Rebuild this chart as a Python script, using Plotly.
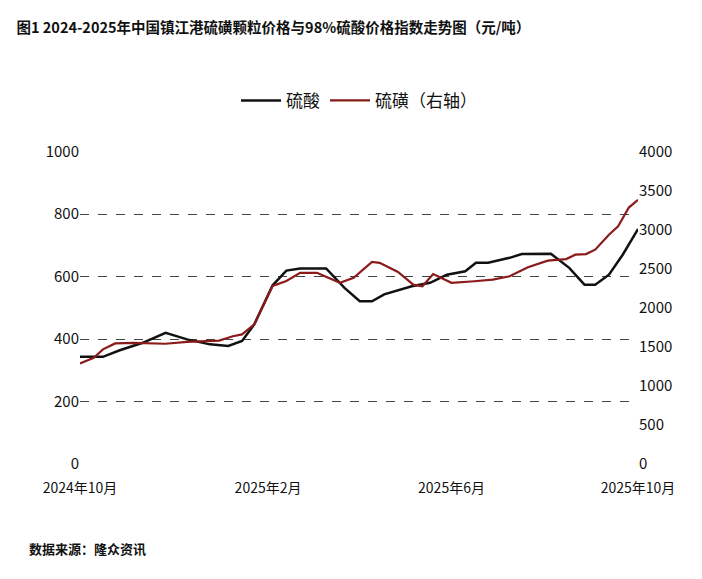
import plotly.graph_objects as go

acid_dates = ["2024-10-01", "2024-10-16", "2024-10-27", "2024-11-11", "2024-11-26", "2024-12-10",
              "2024-12-25", "2025-01-06", "2025-01-15", "2025-01-23", "2025-02-04", "2025-02-13",
              "2025-02-22", "2025-03-11", "2025-03-23", "2025-04-02", "2025-04-10", "2025-04-18",
              "2025-05-06", "2025-05-18", "2025-05-29", "2025-06-10", "2025-06-17", "2025-06-25",
              "2025-07-09", "2025-07-17", "2025-08-05", "2025-08-17", "2025-08-27", "2025-09-03",
              "2025-09-12", "2025-09-21", "2025-10-01"]
acid = [343, 343, 364, 388, 420, 399, 383, 378, 394, 447, 572, 619, 626, 626, 564, 521, 521, 543,
        569, 580, 606, 617, 644, 644, 660, 672, 673, 628, 574, 574, 606, 670, 752]

sulfur_dates = ["2024-10-01", "2024-10-10", "2024-10-16", "2024-10-24", "2024-11-05", "2024-11-26",
                "2024-12-10", "2024-12-31", "2025-01-09", "2025-01-15", "2025-01-23", "2025-02-04",
                "2025-02-13", "2025-02-22", "2025-03-05", "2025-03-20", "2025-03-29", "2025-04-10",
                "2025-04-15", "2025-04-27", "2025-05-07", "2025-05-13", "2025-05-20", "2025-06-01",
                "2025-06-16", "2025-06-28", "2025-07-09", "2025-07-21", "2025-08-03", "2025-08-15",
                "2025-08-21", "2025-08-28", "2025-09-03", "2025-09-12", "2025-09-18", "2025-09-25",
                "2025-10-01"]
sulfur = [1288, 1360, 1468, 1544, 1552, 1540, 1564, 1580, 1636, 1660, 1788, 2280, 2344, 2448, 2448,
          2320, 2384, 2588, 2576, 2460, 2296, 2276, 2432, 2320, 2340, 2360, 2404, 2520, 2604, 2624,
          2680, 2688, 2744, 2936, 3044, 3284, 3384]

tick_vals = ["2024-10-01", "2025-02-01", "2025-06-01", "2025-10-01"]
tick_text = ["2024年10月", "2025年2月", "2025年6月", "2025年10月"]

font = "Noto Sans CJK SC"
fig = go.Figure()
fig.add_trace(go.Scatter(x=acid_dates, y=acid, name="硫酸", mode="lines",
                         line=dict(color="#111111", width=2.5)))
fig.add_trace(go.Scatter(x=sulfur_dates, y=sulfur, name="硫磺（右轴）", mode="lines", yaxis="y2",
                         line=dict(color="#8b1a1a", width=2.2)))

fig.update_layout(
    width=702, height=579, paper_bgcolor="white", plot_bgcolor="white",
    margin=dict(l=72, r=72, t=143, b=123),
    font=dict(family=font, color="#111111", size=15),
    title=dict(text="<b>图1 2024-2025年中国镇江港硫磺颗粒价格与98%硫酸价格指数走势图（元/吨）</b>",
               x=0.012, xanchor="left", y=0.975, font=dict(size=14.5)),
    legend=dict(orientation="h", x=0.5, xanchor="center", y=1.16, yanchor="middle",
                font=dict(size=17), itemwidth=40),
    xaxis=dict(type="date", range=["2024-10-01", "2025-10-01"], tickvals=tick_vals, ticktext=tick_text,
               showgrid=False, showline=False, ticks="", ticklabelstandoff=14, tickfont=dict(size=14)),
    yaxis=dict(range=[0, 1002], tickvals=[0, 200, 400, 600, 800, 1000], showgrid=True,
               gridcolor="#444444", griddash="dash", gridwidth=1, zeroline=False,
               tickfont=dict(size=15)),
    yaxis2=dict(range=[0, 4008], dtick=500, overlaying="y", side="right", showgrid=False,
                zeroline=False, tickfont=dict(size=15)),
)
fig.add_annotation(text="<b>数据来源：隆众资讯</b>", xref="paper", yref="paper", x=-0.095, y=-0.27,
                   xanchor="left", yanchor="middle", showarrow=False, font=dict(size=13))
fig.write_html("out.html")
